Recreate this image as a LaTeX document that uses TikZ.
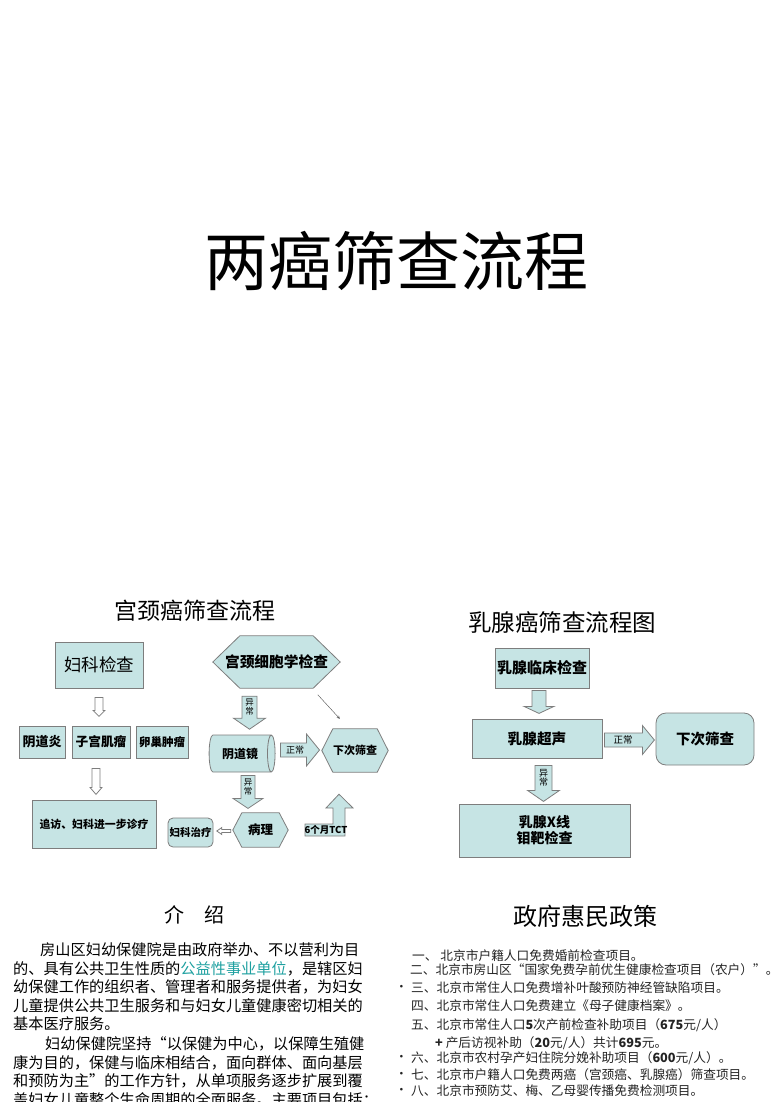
\documentclass[tikz,border=0pt]{standalone}
\usepackage{fontspec}
\setmainfont{Noto Sans CJK SC}
\usepackage{tikz}
\usetikzlibrary{calc,shapes.geometric,backgrounds}
\usepackage{xcolor}
\definecolor{boxteal}{RGB}{198,228,228}
\definecolor{boxline}{RGB}{125,125,125}
\definecolor{linkteal}{RGB}{30,160,160}
\definecolor{listgray}{RGB}{35,35,35}
\newcommand{\pxfont}[1]{\fontsize{#1}{#1}\selectfont}
\tikzstyle{box} = [draw=boxline, fill=boxteal, line width=0.8pt, inner sep=0pt, align=center]
\tikzstyle{hexbox} = [inner sep=0pt, align=center]
\tikzstyle{hexline} = [draw=boxline, fill=boxteal, line width=0.8pt]
\tikzstyle{fatarrow} = [draw=boxline, fill=boxteal, line width=0.8pt, line join=miter]
\tikzstyle{arrowtxt} = [inner sep=0pt, align=center, font=\pxfont{8.5}]
\tikzstyle{line} = [inner sep=0pt, anchor=west]
% block arrow: [style]{from}{to}{shaft half width}{head half width}{head length}
\newcommand{\fatarrow}[6][]{%
  \coordinate (fa-h) at ($(#3)!#6!(#2)$);
  \draw[fatarrow,#1] ($(#2)!#4!90:(#3)$) -- ($(fa-h)!#4!90:(#3)$) -- ($(fa-h)!#5!90:(#3)$) -- (#3)
    -- ($(fa-h)!#5!-90:(#3)$) -- ($(fa-h)!#4!-90:(#3)$) -- ($(#2)!#4!-90:(#3)$) -- cycle;}
% hexagon behind a node: {node}{tip length}
\newcommand{\hexpath}[2]{%
  \draw[hexline] (#1.west) -- ($(#1.north west)+(#2,0)$) -- ($(#1.north east)+(-#2,0)$) -- (#1.east)
    -- ($(#1.south east)+(-#2,0)$) -- ($(#1.south west)+(#2,0)$) -- cycle;}

\begin{document}
\begin{tikzpicture}[x=1pt, y=-1pt]
    \useasboundingbox (0,0) rectangle (780,1102);

    % Title
    \node[font=\pxfont{64}] (title) at (396,261) {两癌筛查流程};

    % Cervical cancer flow
    \node[font=\pxfont{23}] (cxtitle) at (195,611) {宫颈癌筛查流程};
    \node[box, font=\pxfont{17.5}, minimum width=88pt, minimum height=46pt] (gyn) at (99,665) {妇科检查};
    \node[hexbox, font=\bfseries\pxfont{14.7}, minimum width=127pt, minimum height=52pt] (cyt) at (276.5,662) {宫颈细胞学检查};
    \node[box, font=\bfseries\pxfont{13}, minimum width=46pt, minimum height=32pt] (ydy) at (42,742) {阴道炎};
    \node[box, font=\bfseries\pxfont{12.7}, minimum width=58pt, minimum height=32pt] (zgjl) at (101,742) {子宫肌瘤};
    \node[box, font=\bfseries\pxfont{11.5}, minimum width=52pt, minimum height=32pt] (lczl) at (162,742) {卵巢肿瘤};
    \node[box, font=\bfseries\pxfont{10.9}, minimum width=124pt, minimum height=48pt] (follow) at (94,824) {追访、妇科进一步诊疗};
    \node[box, shape=cylinder, aspect=0.65, font=\bfseries\pxfont{12}, minimum height=66pt, minimum width=37pt] (ydj) at (240,753.5) {阴道镜};
    \node[hexbox, font=\bfseries\pxfont{11}, minimum width=66pt, minimum height=43pt] (next1) at (355,750.5) {下次筛查};
    \node[hexbox, font=\bfseries\pxfont{12.5}, minimum width=55pt, minimum height=34pt] (bl) at (260.5,830) {病理};
    \node[box, rounded corners=5pt, font=\bfseries\pxfont{10.5}, minimum width=45pt, minimum height=29pt] (fkzl) at (190.5,832.5) {妇科治疗};

    \begin{scope}[on background layer]
        \hexpath{cyt}{27}
        \hexpath{next1}{11}
        \hexpath{bl}{9}
    \end{scope}

    % Cervical arrows
    \coordinate (g1s) at ($(gyn.south)+(0,9)$);
    \coordinate (g1e) at ($(gyn.south)+(0,28)$);
    \fatarrow[fill=white]{g1s}{g1e}{4pt}{6pt}{6pt}
    \coordinate (g2s) at ($(zgjl.south)+(-5,10)$);
    \coordinate (g2e) at ($(zgjl.south)+(-5,36)$);
    \fatarrow[fill=white]{g2s}{g2e}{4pt}{6pt}{7pt}
    \coordinate (c1s) at ($(cyt.south)+(-27,8)$);
    \coordinate (c1e) at ($(cyt.south)+(-27,41)$);
    \fatarrow{c1s}{c1e}{7.5pt}{16pt}{11pt}
    \node[arrowtxt] (c1t) at (249.5,707) {异\\常};
    \coordinate (c2s) at ($(ydj.south)+(8,3)$);
    \coordinate (c2e) at ($(ydj.south)+(8,36)$);
    \fatarrow{c2s}{c2e}{7pt}{15pt}{10pt}
    \node[arrowtxt] (c2t) at (248,787) {异\\常};
    \coordinate (c3s) at ($(ydj.east)+(5,-3.5)$);
    \coordinate (c3e) at ($(ydj.east)+(44,-3.5)$);
    \fatarrow{c3s}{c3e}{7pt}{16pt}{13pt}
    \node[arrowtxt, font=\pxfont{9}] (c3t) at (295,750) {正常};
    \coordinate (c4s) at ($(bl.west)+(-2,1)$);
    \coordinate (c4e) at ($(bl.west)+(-16,1)$);
    \fatarrow[fill=white]{c4s}{c4e}{1.5pt}{3.5pt}{5pt}
    \coordinate (diags) at ($(next1.north west)+(-4,-34)$);
    \coordinate (diage) at ($(next1.north west)+(18,-10)$);
    \draw[->, >=stealth, thin, black!70] (diags) -- (diage);
    \coordinate (tcttip) at ($(next1.south)+(-16,22)$);
    \draw[fatarrow] (305,824) -- (333,824) -- (333,808) -- (326,808) -- (tcttip) -- (353,808) -- (345,808) -- (345,836) -- (305,836) -- cycle;
    \node[inner sep=0pt, font=\bfseries\pxfont{9.5}] (tct) at (326,830) {6个月TCT};

    % Breast cancer flow
    \node[font=\pxfont{23.5}] (bctitle) at (562,622) {乳腺癌筛查流程图};
    \node[box, font=\bfseries\pxfont{15}, minimum width=94pt, minimum height=40pt] (rxlc) at (542,668) {乳腺临床检查};
    \node[box, font=\bfseries\pxfont{14.7}, minimum width=130pt, minimum height=39pt] (rxcs) at (537,738.5) {乳腺超声};
    \node[box, rounded corners=10pt, font=\bfseries\pxfont{14.5}, minimum width=98pt, minimum height=52pt] (next2) at (705,739) {下次筛查};
    \node[box, font=\bfseries\pxfont{14}, minimum width=171pt, minimum height=53pt] (rxx) at (544.5,830.5) {乳腺X线\\[2pt]钼靶检查};

    \coordinate (b1s) at ($(rxlc.south)+(-3,2)$);
    \coordinate (b1e) at ($(rxlc.south)+(-3,25)$);
    \fatarrow{b1s}{b1e}{7pt}{15pt}{7pt}
    \coordinate (b2s) at ($(rxcs.east)+(2,1.5)$);
    \coordinate (b2e) at ($(rxcs.east)+(52,1.5)$);
    \fatarrow{b2s}{b2e}{7pt}{14.5pt}{12pt}
    \node[arrowtxt, font=\pxfont{9.5}] (b2t) at (623,740) {正常};
    \coordinate (b3s) at ($(rxcs.south)+(6.5,7)$);
    \coordinate (b3e) at ($(rxcs.south)+(6.5,43)$);
    \fatarrow{b3s}{b3e}{8.5pt}{16pt}{11pt}
    \node[arrowtxt, font=\pxfont{9}] (b3t) at (543.5,778) {异\\常};

    % Introduction
    \node[font=\pxfont{20}] (introtitle) at (194,915) {介　绍};
    \begin{scope}[every node/.style={line, font=\pxfont{15.2}}]
        \node (p1) at (40,950) {房山区妇幼保健院是由政府举办、不以营利为目};
        \node (p2) at (13,968.5) {的、具有公共卫生性质的{\color{linkteal}公益性事业单位}，是辖区妇};
        \node (p3) at (13,987) {幼保健工作的组织者、管理者和服务提供者，为妇女};
        \node (p4) at (13,1005.5) {儿童提供公共卫生服务和与妇女儿童健康密切相关的};
        \node (p5) at (13,1023.5) {基本医疗服务。};
        \node (p6) at (45,1044) {妇幼保健院坚持“以保健为中心，以保障生殖健};
        \node (p7) at (13,1062.5) {康为目的，保健与临床相结合，面向群体、面向基层};
        \node (p8) at (13,1081) {和预防为主”的工作方针，从单项服务逐步扩展到覆};
        \node (p9) at (13,1100) {盖妇女儿童整个生命周期的全面服务。主要项目包括：};
    \end{scope}

    % Government policies
    \node[font=\pxfont{24}] (govtitle) at (585,916) {政府惠民政策};
    \begin{scope}[every node/.style={line, font=\pxfont{12.7}, text=listgray}]
        \node (g1) at (412,956) {一、 北京市户籍人口免费婚前检查项目。};
        \node (g2) at (410,970) {二、北京市房山区“国家免费孕前优生健康检查项目（农户）”。};
        \node (g3) at (411,988) {三、北京市常住人口免费增补叶酸预防神经管缺陷项目。};
        \node (g4) at (411,1006) {四、北京市常住人口免费建立《母子健康档案》。};
        \node (g5) at (411,1025) {五、北京市常住人口{\bfseries 5}次产前检查补助项目（{\bfseries 675}元/人）};
        \node (g6) at (435,1043) {{\bfseries +} 产后访视补助（{\bfseries 20}元/人）共计{\bfseries 695}元。};
        \node (g7) at (411,1058) {六、北京市农村孕产妇住院分娩补助项目（{\bfseries 600}元/人）。};
        \node (g8) at (411,1075) {七、北京市户籍人口免费两癌（宫颈癌、乳腺癌）筛查项目。};
        \node (g9) at (411,1091) {八、北京市预防艾、梅、乙母婴传播免费检测项目。};
        \node (d3) at (395,988) {•};
        \node (d7) at (395,1058) {•};
        \node (d8) at (395,1075) {•};
        \node (d9) at (395,1091) {•};
    \end{scope}
\end{tikzpicture}
\end{document}
